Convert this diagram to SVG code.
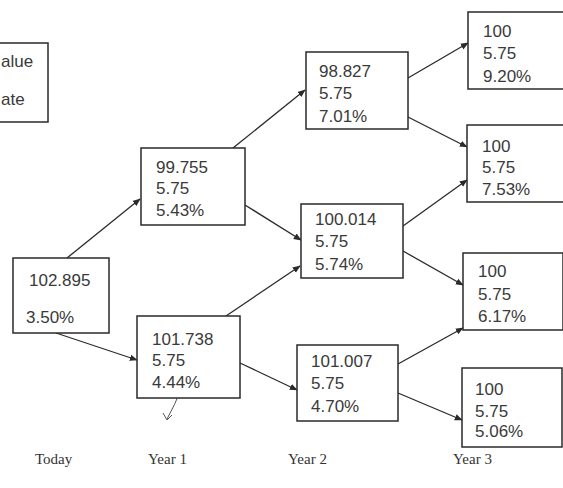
<svg xmlns="http://www.w3.org/2000/svg" width="563" height="488" viewBox="0 0 563 488">
<defs>
<marker id="ah" viewBox="0 0 10 10" refX="9" refY="5" markerWidth="8" markerHeight="8" markerUnits="userSpaceOnUse" orient="auto">
<path d="M0,1 L10,5 L0,9 Z" fill="#2a2a2a"/>
</marker>
<style>
.box{fill:#fff;stroke:#2a2a2a;stroke-width:1.5}
.t{font-family:"Liberation Sans",Arial,sans-serif;font-size:17px;fill:#3a3a3a}
.lbl{font-family:"Liberation Serif","Times New Roman",serif;font-size:15px;fill:#333}
.c{stroke:#2a2a2a;stroke-width:1.3;fill:none;marker-end:url(#ah)}
</style>
</defs>
<rect width="563" height="488" fill="#fff"/>
<g id="legend">
<rect class="box" x="-5" y="43" width="53" height="79"/>
<text class="t" x="1" y="67">alue</text>
<text class="t" x="1" y="105">ate</text>
</g>
<g id="connectors">
<line class="c" x1="67" y1="258" x2="140" y2="199"/>
<line class="c" x1="56" y1="333" x2="137" y2="360"/>
<line class="c" x1="233" y1="148" x2="305" y2="90"/>
<line class="c" x1="245" y1="205" x2="301" y2="240"/>
<line class="c" x1="226" y1="316" x2="300" y2="266"/>
<line class="c" x1="240" y1="363" x2="297" y2="390"/>
<line class="c" x1="408" y1="78" x2="468" y2="43"/>
<line class="c" x1="408" y1="117" x2="467" y2="147"/>
<line class="c" x1="403" y1="226" x2="467" y2="180"/>
<line class="c" x1="403" y1="251" x2="463" y2="285"/>
<line class="c" x1="398" y1="364" x2="463" y2="328"/>
<line class="c" x1="398" y1="393" x2="462" y2="420"/>
<path d="M181,389 Q175,405 167,419" stroke="#555" stroke-width="1" fill="none"/>
<path d="M163,413 L167,420 L172,415" stroke="#555" stroke-width="1" fill="none"/>
</g>
<g id="n_today">
<rect class="box" x="13" y="258" width="96" height="75"/>
<text class="t" x="29" y="286">102.895</text>
<text class="t" x="26" y="323">3.50%</text>
</g>
<g id="n_y1_up">
<rect class="box" x="141" y="148" width="104" height="77"/>
<text class="t" x="156" y="173">99.755</text>
<text class="t" x="156" y="194">5.75</text>
<text class="t" x="156" y="216">5.43%</text>
</g>
<g id="n_y1_down">
<rect class="box" x="137" y="316" width="103" height="82"/>
<text class="t" x="152" y="345">101.738</text>
<text class="t" x="152" y="366">5.75</text>
<text class="t" x="152" y="388">4.44%</text>
</g>
<g id="n_y2_up">
<rect class="box" x="306" y="52" width="102" height="77"/>
<text class="t" x="319" y="77">98.827</text>
<text class="t" x="319" y="99">5.75</text>
<text class="t" x="319" y="122">7.01%</text>
</g>
<g id="n_y2_mid">
<rect class="box" x="301" y="204" width="102" height="74"/>
<text class="t" x="315" y="225">100.014</text>
<text class="t" x="315" y="247">5.75</text>
<text class="t" x="315" y="270">5.74%</text>
</g>
<g id="n_y2_down">
<rect class="box" x="297" y="345" width="101" height="76"/>
<text class="t" x="311" y="367">101.007</text>
<text class="t" x="311" y="389">5.75</text>
<text class="t" x="311" y="412">4.70%</text>
</g>
<g id="n_y3_a">
<rect class="box" x="468" y="12" width="100" height="77"/>
<text class="t" x="483" y="37">100</text>
<text class="t" x="483" y="59">5.75</text>
<text class="t" x="483" y="82">9.20%</text>
</g>
<g id="n_y3_b">
<rect class="box" x="467" y="125" width="100" height="77"/>
<text class="t" x="482" y="152">100</text>
<text class="t" x="482" y="173">5.75</text>
<text class="t" x="482" y="195">7.53%</text>
</g>
<g id="n_y3_c">
<rect class="box" x="463" y="253" width="100" height="77"/>
<text class="t" x="478" y="277">100</text>
<text class="t" x="478" y="300">5.75</text>
<text class="t" x="478" y="322">6.17%</text>
</g>
<g id="n_y3_d">
<rect class="box" x="462" y="368" width="100" height="79"/>
<text class="t" x="475" y="395">100</text>
<text class="t" x="475" y="417">5.75</text>
<text class="t" x="475" y="437">5.06%</text>
</g>
<g id="labels">
<text class="lbl" x="35" y="464">Today</text>
<text class="lbl" x="148" y="464">Year 1</text>
<text class="lbl" x="288" y="464">Year 2</text>
<text class="lbl" x="453" y="464">Year 3</text>
</g>
</svg>
